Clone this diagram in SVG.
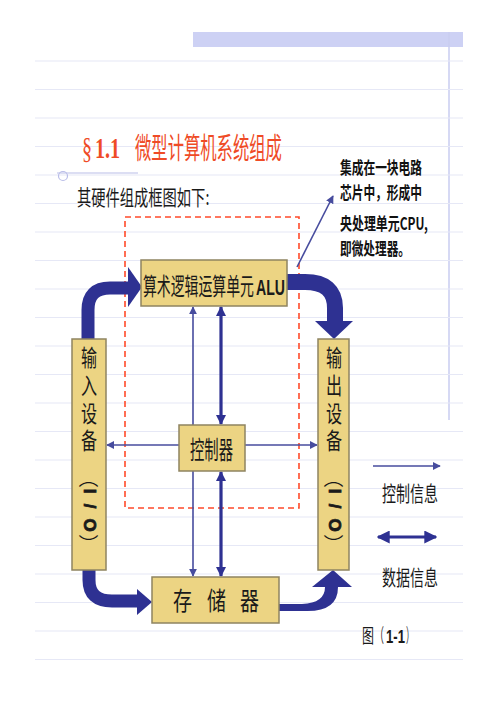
<svg xmlns="http://www.w3.org/2000/svg" width="499" height="706" viewBox="0 0 499 706">
<style>
.bgl{stroke:#e6e8f6;stroke-width:1.2}
.box{fill:#ecd483;stroke:#8f8460;stroke-width:1.5}
.cn{font-family:"Noto Sans CJK SC","Noto Sans",sans-serif;fill:#1a1a1a}
.ann{font-family:"Noto Sans CJK SC",sans-serif;font-weight:bold;fill:#111;font-size:17px}
.lat{font-family:"Liberation Sans",sans-serif;font-weight:bold;fill:#1a1a1a}
.thin{stroke:#474c9e;stroke-width:1.6;fill:none}
.thick{stroke:#2e3192;stroke-width:3.2;fill:none}
.big{fill:#2e3192}
.bigs{stroke:#2e3192;fill:none}
.rot{font-family:"Liberation Sans",sans-serif;font-weight:bold;font-size:17px;fill:#1a1a1a;stroke:#1a1a1a;stroke-width:0.8}
.vert{writing-mode:vertical-rl;font-size:23px;letter-spacing:4.7px}
</style>
<defs>
<marker id="ta" viewBox="0 0 10 10" refX="9" refY="5" markerWidth="8" markerHeight="8" markerUnits="userSpaceOnUse" orient="auto-start-reverse"><path d="M0,0 L10,5 L0,10 z" fill="#474c9e"/></marker>
<marker id="da" viewBox="0 0 10 10" refX="9" refY="5" markerWidth="11" markerHeight="10" markerUnits="userSpaceOnUse" orient="auto-start-reverse"><path d="M0,0 L10,5 L0,10 z" fill="#2e3192"/></marker>
<marker id="la" viewBox="0 0 10 10" refX="9" refY="5" markerWidth="13" markerHeight="13" markerUnits="userSpaceOnUse" orient="auto-start-reverse"><path d="M0,0 L10,5 L0,10 z" fill="#2e3192"/></marker>
</defs>
<rect width="499" height="706" fill="#ffffff"/>
<g id="background">
<rect x="193" y="32" width="270" height="15" fill="#cdd1f4"/>
<line x1="449" y1="32" x2="449" y2="420" stroke="#c9cdf0" stroke-width="1.5"/>
<g class="bgl">
<line x1="35" y1="61" x2="463" y2="61"/><line x1="35" y1="89.5" x2="463" y2="89.5"/><line x1="35" y1="118" x2="463" y2="118"/><line x1="35" y1="146.5" x2="463" y2="146.5"/><line x1="35" y1="175" x2="463" y2="175"/><line x1="35" y1="203.5" x2="463" y2="203.5"/><line x1="35" y1="232" x2="463" y2="232"/><line x1="35" y1="260.5" x2="463" y2="260.5"/><line x1="35" y1="289" x2="463" y2="289"/><line x1="35" y1="317.5" x2="463" y2="317.5"/><line x1="35" y1="346" x2="463" y2="346"/><line x1="35" y1="374.5" x2="463" y2="374.5"/><line x1="35" y1="403" x2="463" y2="403"/><line x1="35" y1="431.5" x2="463" y2="431.5"/><line x1="35" y1="460" x2="463" y2="460"/><line x1="35" y1="488.5" x2="463" y2="488.5"/><line x1="35" y1="517" x2="463" y2="517"/><line x1="35" y1="545.5" x2="463" y2="545.5"/><line x1="35" y1="574" x2="463" y2="574"/><line x1="35" y1="602.5" x2="463" y2="602.5"/><line x1="35" y1="631" x2="463" y2="631"/><line x1="35" y1="659.5" x2="463" y2="659.5"/>
</g>
<line x1="57" y1="173" x2="138" y2="173" stroke="#b9bde8" stroke-width="1.2"/>
<circle cx="63" cy="176" r="4.5" fill="none" stroke="#b9bde8" stroke-width="1.2"/>
</g>
<g id="title">
<text transform="translate(82,158) scale(0.67,1)" font-family="Liberation Serif,serif" font-size="30" fill="#ef4b26">§</text>
<text transform="translate(95,158) scale(0.67,1)" font-family="Liberation Serif,serif" font-weight="bold" font-size="30" fill="#ef4b26">1.1</text>
<text transform="translate(135,159) scale(0.563,1)" class="cn" font-size="29" style="fill:#ef4b26">微型计算机系统组成</text>
<text transform="translate(77,205) scale(0.68,1)" class="cn" font-size="21">其硬件组成框图如下:</text>
</g>
<g id="annotation">
<text x="340" y="174" class="ann" textLength="82" lengthAdjust="spacingAndGlyphs">集成在一块电路</text>
<text x="340" y="199" class="ann" textLength="82" lengthAdjust="spacingAndGlyphs">芯片中，形成中</text>
<text x="340" y="230" class="ann" textLength="88" lengthAdjust="spacingAndGlyphs">央处理单元CPU,</text>
<text x="340" y="255" class="ann" textLength="70" lengthAdjust="spacingAndGlyphs">即微处理器。</text>
</g>
<g id="cpu-boundary">
<rect x="125" y="217" width="174" height="291" fill="none" stroke="#ff4a2a" stroke-width="1.6" stroke-dasharray="6,4"/>
</g>
<g id="connectors">
<line class="thin" x1="297" y1="267" x2="333" y2="196" marker-end="url(#ta)"/>
<line class="thin" x1="193" y1="307" x2="193" y2="576" marker-start="url(#ta)" marker-end="url(#ta)"/>
<line class="thin" x1="179" y1="445" x2="107" y2="445" marker-end="url(#ta)"/>
<line class="thin" x1="245" y1="445" x2="317" y2="445" marker-end="url(#ta)"/>
<line class="thick" x1="221" y1="307" x2="221" y2="424" marker-start="url(#da)" marker-end="url(#da)"/>
<line class="thick" x1="221" y1="472" x2="221" y2="576" marker-start="url(#da)" marker-end="url(#da)"/>
<path class="bigs" stroke-width="13" d="M88 340 L88 310 Q88 288 110 288 L130 288"/>
<polygon class="big" points="128,267 142,287 128,307"/>
<path class="bigs" stroke-width="16" d="M287 282 L305 282 Q335 282 335 308 L335 323"/>
<polygon class="big" points="315,321 353,321 334,339"/>
<path class="bigs" stroke-width="13" d="M89 570 L89 580 Q89 601 112 601 L139 601"/>
<polygon class="big" points="137,589 152,602 137,615"/>
<path class="big" d="M279 604 L302 604 Q325 603 325 587 L338 587 Q338 612 305 611 L279 611 Z"/>
<polygon class="big" points="312,587 352,587 333,570"/>
</g>
<g id="alu">
<rect class="box" x="141" y="260" width="146" height="46"/>
<text transform="translate(143,295) scale(0.578,1)" class="cn" font-size="24">算术逻辑运算单元</text>
<text transform="translate(256,295) scale(0.64,1)" class="lat" font-size="22">ALU</text>
</g>
<g id="controller">
<rect class="box" x="179" y="425" width="66" height="46"/>
<text x="190" y="459" class="cn" font-size="25" textLength="43" lengthAdjust="spacingAndGlyphs">控制器</text>
</g>
<g id="storage">
<rect class="box" x="152" y="577" width="127" height="46"/>
<text x="173" y="610" class="cn" font-size="25" textLength="19" lengthAdjust="spacingAndGlyphs">存</text>
<text x="207" y="610" class="cn" font-size="25" textLength="19" lengthAdjust="spacingAndGlyphs">储</text>
<text x="240" y="610" class="cn" font-size="25" textLength="19" lengthAdjust="spacingAndGlyphs">器</text>
</g>
<g id="input-device">
<rect class="box" x="72" y="339" width="34" height="231"/>
<text class="cn vert" x="127.14" y="346" transform="scale(0.7,1)">输入设备</text>
<text transform="translate(89,478) rotate(90)" class="cn" font-size="20" text-anchor="middle" dominant-baseline="central">（</text>
<text transform="translate(89,491) rotate(90)" class="rot" text-anchor="middle" dominant-baseline="central">I</text>
<text transform="translate(89,506) rotate(90)" class="rot" text-anchor="middle" dominant-baseline="central">/</text>
<text transform="translate(89,525) rotate(90)" class="rot" text-anchor="middle" dominant-baseline="central">O</text>
<text transform="translate(89,544) rotate(90)" class="cn" font-size="20" text-anchor="middle" dominant-baseline="central">）</text>
</g>
<g id="output-device">
<rect class="box" x="318" y="339" width="31" height="231"/>
<text class="cn vert" x="477.14" y="346" transform="scale(0.7,1)">输出设备</text>
<text transform="translate(334,478) rotate(90)" class="cn" font-size="20" text-anchor="middle" dominant-baseline="central">（</text>
<text transform="translate(334,491) rotate(90)" class="rot" text-anchor="middle" dominant-baseline="central">I</text>
<text transform="translate(334,506) rotate(90)" class="rot" text-anchor="middle" dominant-baseline="central">/</text>
<text transform="translate(334,525) rotate(90)" class="rot" text-anchor="middle" dominant-baseline="central">O</text>
<text transform="translate(334,544) rotate(90)" class="cn" font-size="20" text-anchor="middle" dominant-baseline="central">）</text>
</g>
<g id="legend">
<line class="thin" x1="373" y1="466" x2="440" y2="466" marker-end="url(#ta)"/>
<text x="382" y="501" class="cn" font-size="21" textLength="56" lengthAdjust="spacingAndGlyphs">控制信息</text>
<line class="thick" stroke-width="5" x1="378" y1="537" x2="436" y2="537" marker-start="url(#la)" marker-end="url(#la)"/>
<text x="382" y="585" class="cn" font-size="21" textLength="56" lengthAdjust="spacingAndGlyphs">数据信息</text>
<text transform="translate(362,643) scale(0.63,1)" class="cn" font-size="19">图</text>
<text transform="translate(375,643) scale(0.47,1)" class="cn" font-size="19">（</text>
<text transform="translate(386,643) scale(0.69,1)" class="lat" font-size="19">1-1</text>
<text transform="translate(406,643) scale(0.42,1)" class="cn" font-size="19">）</text>
</g>
</svg>
